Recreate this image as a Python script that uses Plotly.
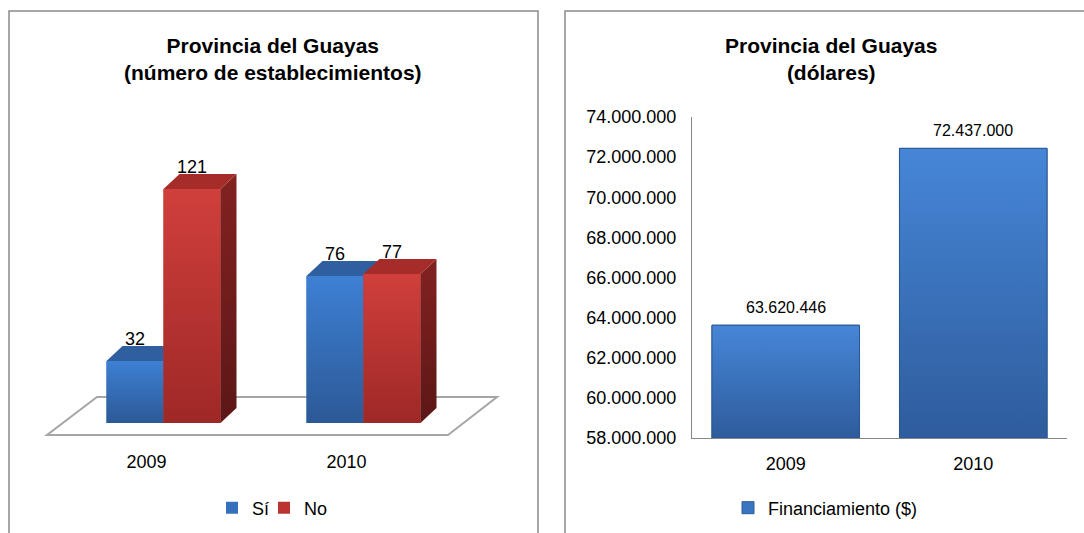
import plotly.graph_objects as go

# ---------------- data ----------------
years = ["2009", "2010"]
si_values = [32, 76]
no_values = [121, 77]
series_names = ["Sí", "No"]
financing = [63620446, 72437000]
fin_tickvals = [58000000, 60000000, 62000000, 64000000, 66000000,
                68000000, 70000000, 72000000, 74000000]

# ---------------- geometry helpers ----------------
W, H = 1084, 533
FONT = "Liberation Sans, Arial, sans-serif"


def fx(p):
    return p / W


def fy(p):
    return 1 - p / H


# left (3D) chart pixel geometry
L_X0, L_X1 = 20, 530
L_Y0, L_Y1 = 140, 440
CAT_PX = 200.0      # pixels per category
CAT0_PX = 163.5     # pixel of first category centre
V_PX = 1.934        # pixels per unit
BASE_PX = 423       # pixel of value 0 (front face bottom)

xr_left = [(L_X0 - CAT0_PX) / CAT_PX, (L_X1 - CAT0_PX) / CAT_PX]
yr_left = [(BASE_PX - L_Y1) / V_PX, (BASE_PX - L_Y0) / V_PX]

BAR_W = 0.285
OFFSETS = [-0.1425, 0.1425]
DDX = 16 / CAT_PX
DDV = 15 / V_PX

front_cols = ["#3570BD", "#BC3431"]
front_top = ["#3D80D4", "#D03F3C"]
front_bot = ["#2C5996", "#9E2826"]
top_cols = ["#2F5F9F", "#A62C2A"]
side_top = ["#2A5590", "#822221"]
side_bot = ["#1F4373", "#5C1716"]
legend_ids = ["legend", "legend3"]

fig = go.Figure()

sub_axes = [("x", "y"), ("x3", "y3")]
all_series = [si_values, no_values]
annotations = []

for s, (vals, name) in enumerate(zip(all_series, series_names)):
    xa, ya = sub_axes[s]
    off = OFFSETS[s]
    xs = [i + off for i in range(len(years))]
    fig.add_trace(go.Bar(
        x=xs, y=vals, width=BAR_W, name=name,
        marker=dict(color=front_cols[s], line=dict(width=0)),
        xaxis=xa, yaxis=ya, legend=legend_ids[s], showlegend=True,
    ))
    for xc, v in zip(xs, vals):
        x0, x1 = xc - BAR_W / 2, xc + BAR_W / 2
        # front face with vertical gradient
        fig.add_trace(go.Scatter(
            x=[x0, x1, x1, x0, x0], y=[0, 0, v, v, 0], fill="toself",
            mode="lines", line=dict(width=0, color=front_cols[s]),
            fillgradient=dict(type="vertical", start=0, stop=v,
                              colorscale=[[0, front_bot[s]],
                                          [1, front_top[s]]]),
            hoverinfo="skip", showlegend=False, xaxis=xa, yaxis=ya))
        # side face
        fig.add_trace(go.Scatter(
            x=[x1, x1, x1 + DDX, x1 + DDX, x1],
            y=[0, v, v + DDV, DDV, 0], fill="toself", mode="lines",
            line=dict(width=0, color=side_top[s]),
            fillgradient=dict(type="vertical", start=0, stop=v + DDV,
                              colorscale=[[0, side_bot[s]],
                                          [1, side_top[s]]]),
            hoverinfo="skip", showlegend=False, xaxis=xa, yaxis=ya))
        # top face
        fig.add_trace(go.Scatter(
            x=[x0, x1, x1 + DDX, x0 + DDX, x0],
            y=[v, v, v + DDV, v + DDV, v], fill="toself", mode="lines",
            line=dict(width=0, color=top_cols[s]), fillcolor=top_cols[s],
            hoverinfo="skip", showlegend=False, xaxis=xa, yaxis=ya))
        annotations.append(dict(
            x=xc, y=v + DDV, xref=xa, yref=ya, text=str(v), showarrow=False,
            yanchor="middle", yshift=7,
            font=dict(size=18, color="#000000", family=FONT)))

# floor of the 3D chart
n = len(years)
f_front_v = (BASE_PX - 435) / V_PX
f_back_v = (BASE_PX - 397) / V_PX
f_fl = (47 - CAT0_PX) / CAT_PX
f_fr = (n - 1) + (448 - CAT0_PX - CAT_PX) / CAT_PX
f_bl = (97 - CAT0_PX) / CAT_PX
f_br = (n - 1) + (497 - CAT0_PX - CAT_PX) / CAT_PX
floor_path = (f"M {f_fl},{f_front_v} L {f_fr},{f_front_v} "
              f"L {f_br},{f_back_v} L {f_bl},{f_back_v} Z")

# ---------------- right chart ----------------
R_MIN, R_MAX = 58000000, 74000000
R_BAR_W = 0.787
xr_pos = list(range(len(years)))
fig.add_trace(go.Bar(
    x=xr_pos, y=financing, width=R_BAR_W, name="Financiamiento ($)",
    marker=dict(color="#3A75C2", line=dict(color="#2C5A98", width=1)),
    xaxis="x2", yaxis="y2", legend="legend2", showlegend=True,
))
for i, v in zip(xr_pos, financing):
    b0, b1 = i - R_BAR_W / 2, i + R_BAR_W / 2
    fig.add_trace(go.Scatter(
        x=[b0, b1, b1, b0, b0], y=[R_MIN, R_MIN, v, v, R_MIN], fill="toself",
        mode="lines", line=dict(width=1, color="#2B5894"),
        fillgradient=dict(type="vertical", start=R_MIN, stop=v,
                          colorscale=[[0, "#2E5C9C"], [1, "#4686D7"]]),
        hoverinfo="skip", showlegend=False, xaxis="x2", yaxis="y2"))
    annotations.append(dict(
        x=i, y=v, xref="x2", yref="y2", text=f"{v:,}".replace(",", "."),
        showarrow=False, yanchor="middle", yshift=18,
        font=dict(size=16, color="#000000", family=FONT)))

# titles
annotations.append(dict(
    x=fx(273), y=fy(59), xref="paper", yref="paper", showarrow=False,
    text="<b>Provincia del Guayas<br>(número de establecimientos)</b>",
    font=dict(size=21, color="#000000", family=FONT),
    xanchor="center", yanchor="middle"))
annotations.append(dict(
    x=fx(831), y=fy(59), xref="paper", yref="paper", showarrow=False,
    text="<b>Provincia del Guayas<br>(dólares)</b>",
    font=dict(size=21, color="#000000", family=FONT),
    xanchor="center", yanchor="middle"))

shapes = [
    dict(type="path", path=floor_path, xref="x", yref="y", layer="below",
         line=dict(color="#A6A6A6", width=2), fillcolor="#FFFFFF"),
    dict(type="rect", xref="paper", yref="paper", x0=fx(9), x1=fx(538),
         y0=fy(560), y1=fy(11), line=dict(color="#8A8A8A", width=1.5),
         layer="below"),
    dict(type="rect", xref="paper", yref="paper", x0=fx(565), x1=fx(1110),
         y0=fy(560), y1=fy(11), line=dict(color="#8A8A8A", width=1.5),
         layer="below"),
]

R_X0, R_X1 = 692, 1067
R_Y0, R_Y1 = 117, 438

leg_common = dict(orientation="h", xanchor="left", yanchor="middle",
                  font=dict(size=18), bgcolor="rgba(0,0,0,0)",
                  borderwidth=0)

fig.update_layout(
    width=W, height=H,
    margin=dict(l=0, r=0, t=0, b=0, autoexpand=False),
    paper_bgcolor="#FFFFFF", plot_bgcolor="rgba(0,0,0,0)",
    separators=",.",
    barmode="overlay",
    font=dict(family=FONT, size=18, color="#000000"),
    xaxis=dict(domain=[fx(L_X0), fx(L_X1)], range=xr_left,
               tickvals=[i - 0.085 for i in range(n)], ticktext=years,
               showgrid=False, zeroline=False, showline=False, ticks="",
               ticklabelstandoff=9, tickfont=dict(size=18), anchor="y",
               automargin=False),
    yaxis=dict(domain=[fy(L_Y1), fy(L_Y0)], range=yr_left, visible=False,
               anchor="x", automargin=False),
    xaxis3=dict(overlaying="x", range=xr_left, visible=False, anchor="y3",
                automargin=False),
    yaxis3=dict(overlaying="y", range=yr_left, visible=False, anchor="x3",
                automargin=False),
    xaxis2=dict(domain=[fx(R_X0), fx(R_X1)], range=[-0.5, len(years) - 0.5],
                tickvals=xr_pos, ticktext=years, showgrid=False,
                zeroline=False, showline=True, linecolor="#868686",
                linewidth=1, ticks="", ticklabelstandoff=9,
                tickfont=dict(size=18), anchor="y2", automargin=False),
    yaxis2=dict(domain=[fy(R_Y1), fy(R_Y0)], range=[R_MIN, R_MAX],
                tickvals=fin_tickvals, tickformat=",d", showgrid=False,
                zeroline=False, showline=True, linecolor="#868686",
                linewidth=1, ticks="", ticklabelstandoff=11,
                tickfont=dict(size=18), anchor="x2", automargin=False),
    legend=dict(x=fx(212), y=fy(508), **leg_common),
    legend3=dict(x=fx(264), y=fy(508), **leg_common),
    legend2=dict(x=fx(728), y=fy(508), **leg_common),
    annotations=annotations,
    shapes=shapes,
    showlegend=True,
)

post = ("document.documentElement.style.overflow='hidden';"
        "document.body.style.margin='0';"
        "document.body.style.overflow='hidden';"
        "var g=document.getElementById('{plot_id}');"
        "g.style.position='fixed';g.style.left='0px';g.style.top='0px';")

fig.write_html("out.html", post_script=post,
               config={"displayModeBar": False})
